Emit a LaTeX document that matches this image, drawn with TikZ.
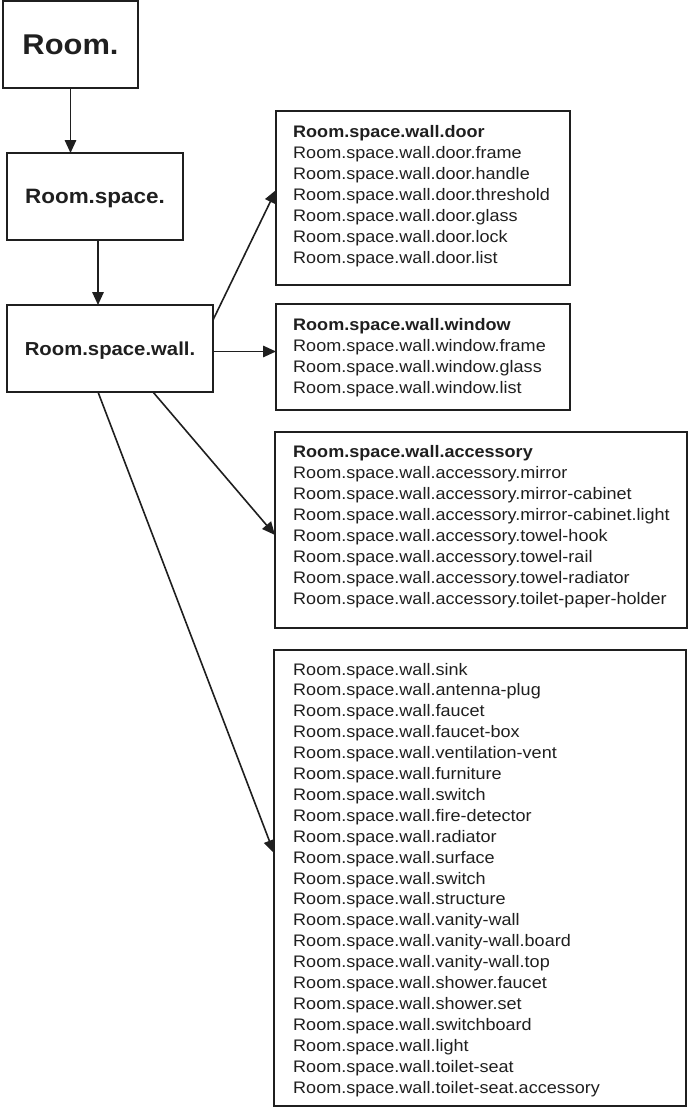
\documentclass[tikz,border=0pt]{standalone}
\usepackage{fontspec}
\setmainfont{Liberation Sans}[FakeStretch=1.08]
\usetikzlibrary{arrows.meta,calc}
\definecolor{ink}{gray}{0.12}
\tikzset{
  box/.style={draw=ink, line width=1.5pt, inner sep=0pt, outer sep=0pt, anchor=north west},
  listtext/.style={anchor=base west, inner sep=0pt, text=ink, font=\fontsize{16.7}{21}\selectfont},
  conn/.style={draw=ink, line width=1.6pt, -{Triangle[length=13pt,width=11.5pt]}},
}
\newcommand{\lst}[1]{\begin{tabular}[t]{@{}l@{}}#1\end{tabular}}
\begin{document}
\begin{tikzpicture}[x=1pt,y=-1pt]
\useasboundingbox (0,0) rectangle (688,1108);
% left column
\node[box, minimum width=135pt, minimum height=87pt, text=ink, font=\fontsize{28.6}{32}\selectfont\bfseries, text depth=0pt] (room) at (3,1) {Room.};
\node[box, minimum width=176pt, minimum height=87pt, text=ink, font=\fontsize{20.8}{24}\selectfont\bfseries, text depth=0pt] (space) at (7,153) {Room.space.};
\node[box, minimum width=206pt, minimum height=87pt, text=ink, font=\fontsize{18.8}{22}\selectfont\bfseries, text depth=0pt] (wall) at (7,305) {Room.space.wall.};
% right boxes
\node[box, minimum width=294pt, minimum height=174pt] (door) at (276,111) {};
\node[box, minimum width=294pt, minimum height=106pt] (window) at (276,304) {};
\node[box, minimum width=412pt, minimum height=196pt] (acc) at (275,432) {};
\node[box, minimum width=412pt, minimum height=456pt] (misc) at (274,650) {};
% texts
\node[listtext] (doorT) at (293,137) {\lst{\textbf{Room.space.wall.door}\\
Room.space.wall.door.frame\\
Room.space.wall.door.handle\\
Room.space.wall.door.threshold\\
Room.space.wall.door.glass\\
Room.space.wall.door.lock\\
Room.space.wall.door.list}};
\node[listtext] (windowT) at (293,330) {\lst{\textbf{Room.space.wall.window}\\
Room.space.wall.window.frame\\
Room.space.wall.window.glass\\
Room.space.wall.window.list}};
\node[listtext] (accT) at (293,457) {\lst{\textbf{Room.space.wall.accessory}\\
Room.space.wall.accessory.mirror\\
Room.space.wall.accessory.mirror-cabinet\\
Room.space.wall.accessory.mirror-cabinet.light\\
Room.space.wall.accessory.towel-hook\\
Room.space.wall.accessory.towel-rail\\
Room.space.wall.accessory.towel-radiator\\
Room.space.wall.accessory.toilet-paper-holder}};
\node[listtext, font=\fontsize{16.7}{20.9}\selectfont] (miscT) at (293,675) {\lst{Room.space.wall.sink\\
Room.space.wall.antenna-plug\\
Room.space.wall.faucet\\
Room.space.wall.faucet-box\\
Room.space.wall.ventilation-vent\\
Room.space.wall.furniture\\
Room.space.wall.switch\\
Room.space.wall.fire-detector\\
Room.space.wall.radiator\\
Room.space.wall.surface\\
Room.space.wall.switch\\
Room.space.wall.structure\\
Room.space.wall.vanity-wall\\
Room.space.wall.vanity-wall.board\\
Room.space.wall.vanity-wall.top\\
Room.space.wall.shower.faucet\\
Room.space.wall.shower.set\\
Room.space.wall.switchboard\\
Room.space.wall.light\\
Room.space.wall.toilet-seat\\
Room.space.wall.toilet-seat.accessory}};
% connectors
\draw[conn] (room.south) -- (room.south |- space.north);
\draw[conn] ([xshift=3pt]space.south) -- ([xshift=3pt]space.south |- wall.north);
\draw[conn] ([yshift=-15pt]wall.north east) -- ([yshift=-79pt]door.north west);
\draw[conn] ([yshift=-3pt]wall.east) -- ([yshift=-3pt]wall.east -| window.west);
\draw[conn] ([xshift=146pt]wall.south west) -- ([yshift=-103pt]acc.north west);
\draw[conn] ([xshift=91pt]wall.south west) -- ([yshift=-203pt]misc.north west);
\end{tikzpicture}
\end{document}
